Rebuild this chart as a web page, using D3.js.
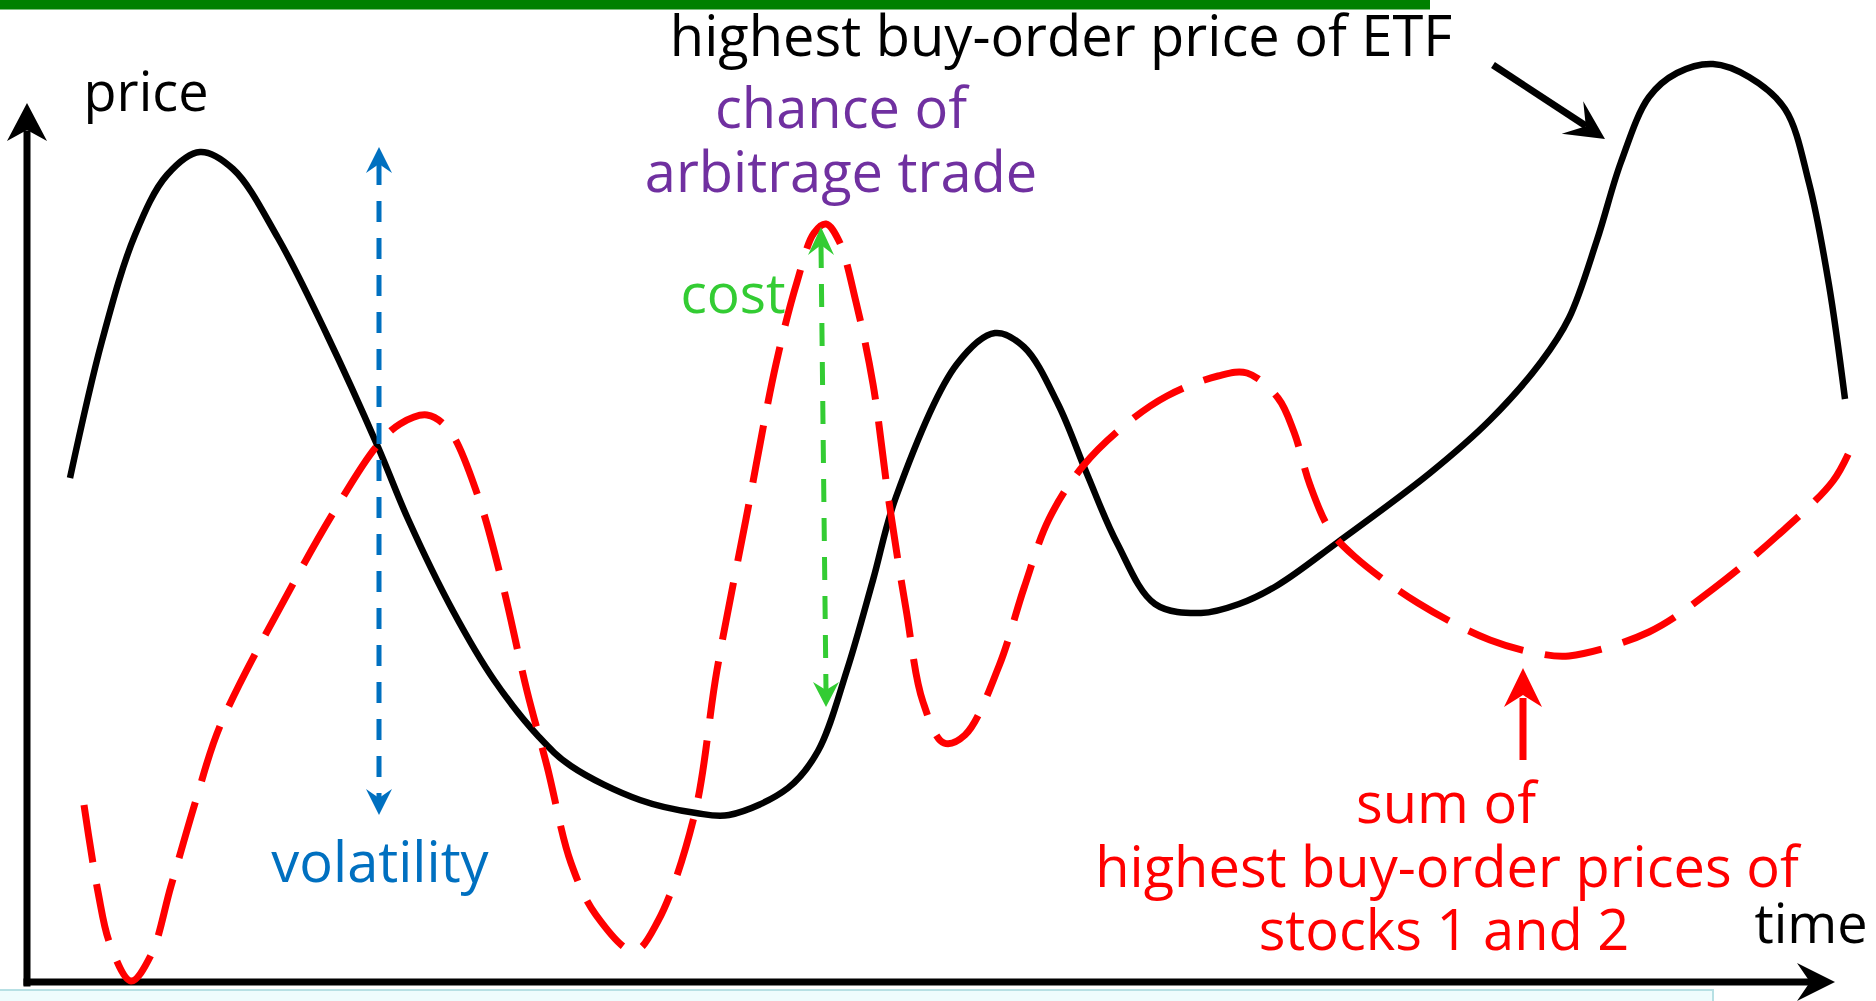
<!DOCTYPE html>
<html>
<head>
<meta charset="utf-8">
<script src="https://cdn.jsdelivr.net/npm/d3@7"></script>
<style>
  html, body { margin: 0; padding: 0; background: #fff; }
  svg { display: block; }
  text { font-family: "Open Sans", "Noto Sans", sans-serif; }
</style>
</head>
<body>
<svg id="chart" width="1876" height="1001"></svg>
<script>
"use strict";

// === Data: time / price samples ===
const etfTime = [43, 75, 108, 140, 173, 206, 251, 300, 351, 381, 426, 467, 512, 544, 613, 669, 702,
  761, 791, 820, 846, 869, 930, 968, 997, 1031, 1060, 1090, 1128, 1174, 1212, 1251, 1311,
  1403, 1463, 1514, 1542, 1570, 1594, 1622, 1650, 1686, 1722, 1758, 1782, 1802, 1818];
const etfPrice = [504, 641, 747, 807, 830, 813, 744, 647, 535, 463, 371, 302, 245, 216, 182, 169, 167,
  194, 231, 312, 402, 485, 618, 649, 635, 578, 508, 439, 378, 369, 378, 397, 440,
  509, 562, 620, 664, 742, 820, 885, 909, 918, 905, 873, 799, 697, 583];

const stockSumTime = [57, 71, 83, 104, 124, 144, 169, 193, 267, 308, 349, 373, 400, 422, 451, 475,
  500, 520, 544, 569, 607, 631, 667, 690, 719, 749, 770, 787, 799, 812, 829, 846, 862, 879, 896,
  917, 938, 972, 997, 1022, 1056, 1098, 1140, 1191, 1220, 1251, 1267, 1283, 1303, 1327, 1391,
  1463, 1514, 1542, 1622, 1686, 1750, 1806, 1824];
const stockSumPrice = [177, 90, 38, 1, 27, 96, 182, 256, 400, 472, 535, 558, 567, 552, 486, 400,
  291, 216, 119, 67, 31, 61, 165, 312, 463, 618, 700, 749, 758, 741, 680, 598, 480, 373, 280,
  239, 247, 316, 394, 463, 516, 557, 586, 606, 609, 584, 550, 497, 452, 426, 379,
  342, 328, 326, 350, 393, 446, 501, 534];

// annotation markers: [time, price from, price to]
const volatilityRange = [352, 167, 835];
const costRange = [796, 275, 755];

// label texts
const axisLabels = ["price", "time"];
const etfLabel = "highest buy-order price of ETF";
const chanceLabel = ["chance of", "arbitrage trade"];
const costLabel = "cost";
const volatilityLabel = "volatility";
const sumLabel = ["sum of", "highest buy-order prices of", "stocks 1 and 2"];

// === Scales ===
const xScale = d3.scaleLinear().domain([0, 1808]).range([27, 1835]);
const yScale = d3.scaleLinear().domain([0, 880]).range([982, 102]);

const svg = d3.select("#chart");

/**
 * Draws a notched arrow head with its tip at (x, y) pointing along angle (degrees).
 */
function arrowHead(drawing, x, y, angle, len, halfW, notch, color) {
  const p = [[0, 0], [-len, -halfW], [-notch, 0], [-len, halfW]];
  drawing.append("path")
    .attr("d", "M" + p.map(d => d.join(",")).join("L") + "Z")
    .attr("transform", `translate(${x},${y}) rotate(${angle})`)
    .attr("fill", color);
}

function label(drawing, text, x, y, color, size) {
  drawing.append("text")
    .attr("x", x).attr("y", y)
    .attr("text-anchor", "middle")
    .attr("font-size", size || 56)
    .attr("fill", color)
    .text(text);
}

// === Frame decorations ===
svg.append("rect").attr("x", 0).attr("y", 0).attr("width", 1430).attr("height", 9.5)
  .attr("fill", "#008000");
svg.append("rect").attr("x", -2).attr("y", 990).attr("width", 1715).attr("height", 20)
  .attr("fill", "#effcfd").attr("stroke", "#b7e0e4").attr("stroke-width", 2);

// === Axes (no ticks, arrow ends) ===
const xAxisScale = d3.scaleLinear().domain([-4, 1783]).range([xScale(-4), xScale(1783)]);
const yAxisScale = d3.scaleLinear().domain([-4, 852]).range([yScale(-4), yScale(852)]);

svg.append("g")
  .attr("transform", `translate(0,${yScale(0) - 0.5})`)
  .call(d3.axisBottom(xAxisScale).tickValues([]).tickSizeOuter(0))
  .select(".domain").attr("stroke", "#000").attr("stroke-width", 7);
svg.append("g")
  .attr("transform", `translate(${xScale(0) - 0.5},0)`)
  .call(d3.axisLeft(yAxisScale).tickValues([]).tickSizeOuter(0))
  .select(".domain").attr("stroke", "#000").attr("stroke-width", 7);

arrowHead(svg, xScale(1808), yScale(0), 0, 38, 19, 25, "#000");
arrowHead(svg, xScale(0), yScale(879), -90, 38, 20, 27, "#000");

// === Series ===
const line = d3.line()
  .x(d => xScale(d[0]))
  .y(d => yScale(d[1]))
  .curve(d3.curveCatmullRom.alpha(0.5));

const etfData = etfTime.map((t, i) => [t, etfPrice[i]]);
const sumData = stockSumTime.map((t, i) => [t, stockSumPrice[i]]);

svg.append("path").datum(etfData)
  .attr("d", line)
  .attr("fill", "none").attr("stroke", "#000").attr("stroke-width", 6.5)
  .attr("stroke-linejoin", "round");

svg.append("path").datum(sumData)
  .attr("d", line)
  .attr("fill", "none").attr("stroke", "#ff0000").attr("stroke-width", 7)
  .attr("stroke-dasharray", "58,22");

// === Volatility marker (blue) ===
const vx = xScale(volatilityRange[0]);
svg.append("line")
  .attr("x1", vx).attr("y1", yScale(volatilityRange[2]) + 17)
  .attr("x2", vx).attr("y2", yScale(volatilityRange[1]) - 17)
  .attr("stroke", "#0070c0").attr("stroke-width", 5)
  .attr("stroke-dasharray", "21,16");
arrowHead(svg, vx, yScale(volatilityRange[2]), -90, 26, 13, 17, "#0070c0");
arrowHead(svg, vx, yScale(volatilityRange[1]), 90, 26, 13, 17, "#0070c0");

// === Cost marker (green) ===
const cTop = [xScale(costRange[0] - 2), yScale(costRange[2])];
const cBot = [xScale(costRange[0] + 3), yScale(costRange[1])];
svg.append("line")
  .attr("x1", cTop[0]).attr("y1", cTop[1] + 18)
  .attr("x2", cBot[0]).attr("y2", cBot[1] - 17)
  .attr("stroke", "#33cc33").attr("stroke-width", 5)
  .attr("stroke-dasharray", "23,16");
arrowHead(svg, cTop[0], cTop[1], -90, 28, 13, 18, "#33cc33");
arrowHead(svg, cBot[0], cBot[1], 90, 25, 13, 17, "#33cc33");

// === Pointer arrows ===
svg.append("line")
  .attr("x1", 1493).attr("y1", 65).attr("x2", 1586).attr("y2", 126)
  .attr("stroke", "#000").attr("stroke-width", 7);
arrowHead(svg, 1605, 139, 33.5, 39, 19.5, 23, "#000");

svg.append("line")
  .attr("x1", 1523).attr("y1", 760).attr("x2", 1523).attr("y2", 698)
  .attr("stroke", "#ff0000").attr("stroke-width", 7);
arrowHead(svg, 1523, 668, -90, 39, 19, 27, "#ff0000");

// === Labels ===
label(svg, axisLabels[0], 146, 111, "#000", 54);
label(svg, axisLabels[1], 1811, 943, "#000", 54);
label(svg, etfLabel, 1061, 56, "#000");
label(svg, chanceLabel[0], 841, 128, "#7030a0");
label(svg, chanceLabel[1], 841, 192, "#7030a0");
label(svg, costLabel, 733, 313, "#33cc33", 55);
label(svg, volatilityLabel, 380, 882, "#0070c0");
label(svg, sumLabel[0], 1446, 823, "#ff0000");
label(svg, sumLabel[1], 1447, 887, "#ff0000");
label(svg, sumLabel[2], 1444, 950, "#ff0000");
</script>
</body>
</html>
